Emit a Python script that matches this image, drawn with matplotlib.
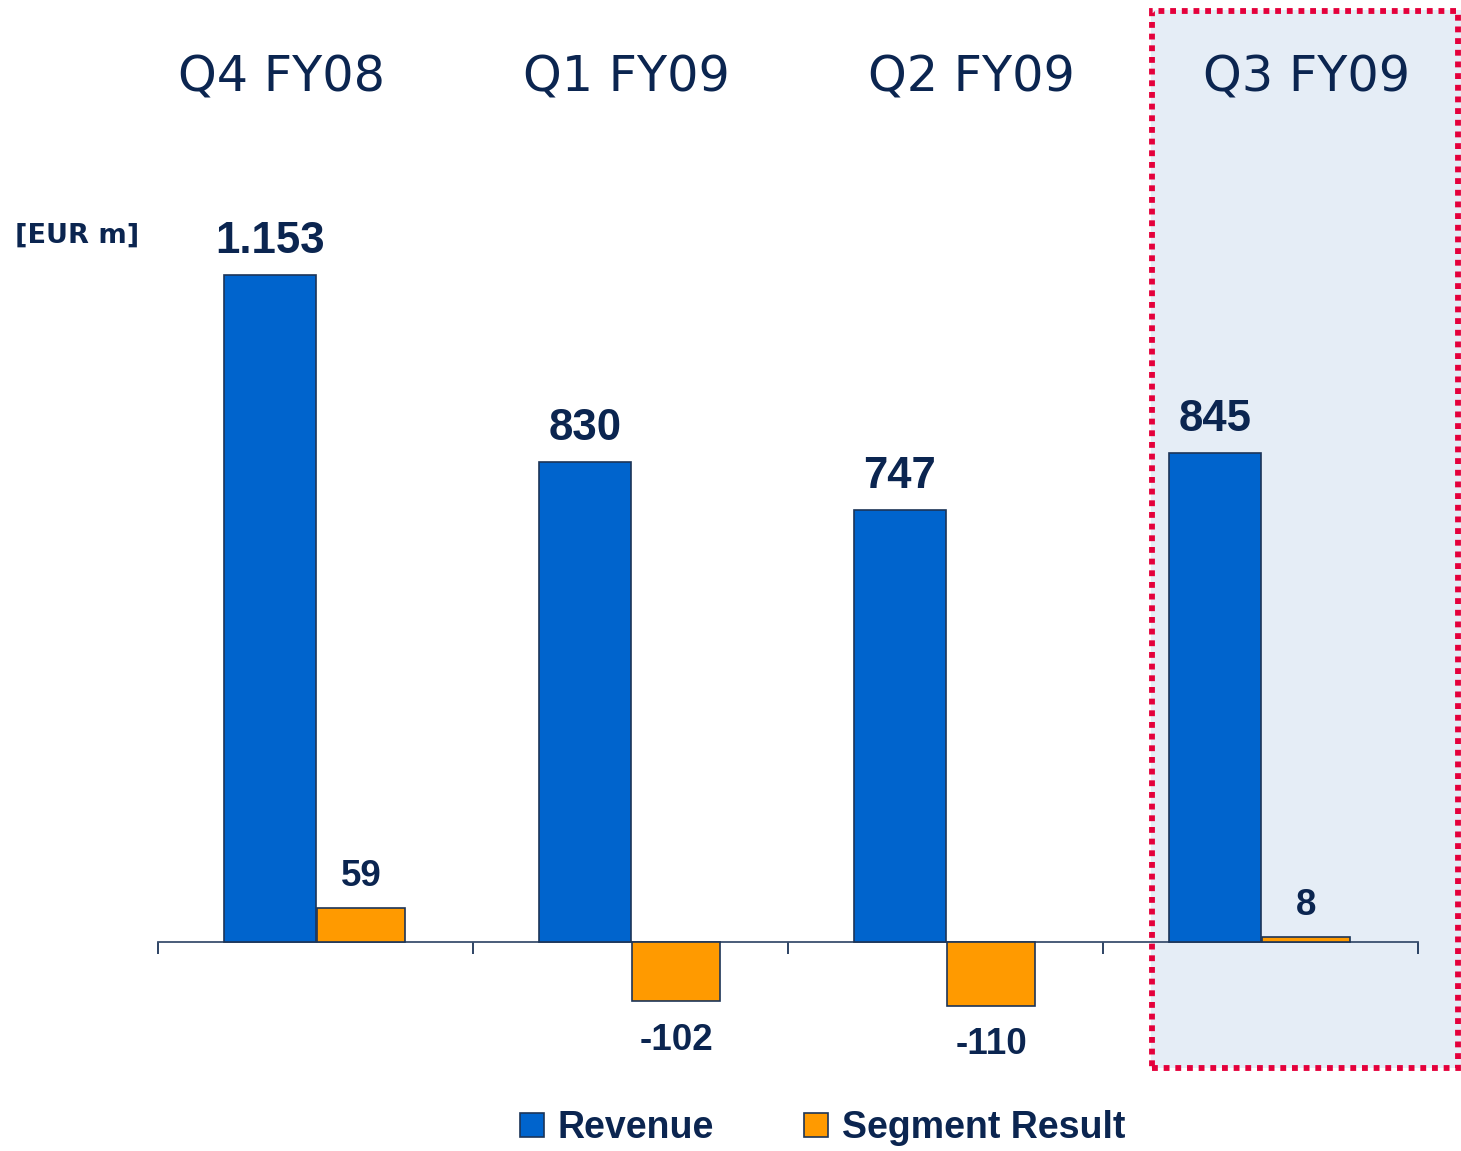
import matplotlib
matplotlib.use("Agg")
import matplotlib.pyplot as plt
import numpy as np
from matplotlib.lines import Line2D
from matplotlib.patches import Rectangle

# ── data ────────────────────────────────────────────────────────────
quarters = ["Q4 FY08", "Q1 FY09", "Q2 FY09", "Q3 FY09"]
revenue = [1153, 830, 747, 845]
segment = [59, -102, -110, 8]
revenue_labels = ["1.153", "830", "747", "845"]
segment_labels = ["59", "-102", "-110", "8"]

NAVY = "#0B2550"
BLUE = "#0064CD"
ORANGE = "#FF9A00"
EDGE = "#1C3558"

W, H = 1461, 1151
fig = plt.figure(figsize=(W / 100, H / 100), dpi=100)
fig.patch.set_facecolor("white")

# highlight panel for the latest quarter (figure pixels -> fractions)
fig.patches.append(Rectangle((1151 / W, 1 - 1068 / H), (1461 - 1151) / W, (1068 - 10) / H,
                             transform=fig.transFigure, facecolor="#E5EDF6",
                             edgecolor="none", zorder=-2))

ax = fig.add_axes([158 / W, 0, (1418 - 158) / W, 1])
ax.set_facecolor("none")
x = np.arange(len(quarters))
bw = 0.29
ax.bar(x - bw / 2, revenue, bw, color=BLUE, edgecolor=EDGE, lw=1.2, zorder=3)
ax.bar(x + bw / 2, segment, bw * 0.97, color=ORANGE, edgecolor=EDGE, lw=1.2, zorder=3)

ax.set_xlim(-0.5, len(quarters) - 0.5)
ax.set_ylim(-361.3, 1628.3)
for s in ["top", "left", "right"]:
    ax.spines[s].set_visible(False)
ax.spines["bottom"].set_position(("data", 0))
ax.spines["bottom"].set_color("#3A4F6E")
ax.spines["bottom"].set_linewidth(1.3)
ax.set_xticks(np.arange(-0.5, len(quarters), 1.0))
ax.set_xticklabels([])
ax.tick_params(axis="x", direction="out", length=8.5, width=1.3, color="#1C3558")
ax.set_yticks([])

for i in range(len(quarters)):
    ax.annotate(revenue_labels[i], (x[i] - bw / 2, revenue[i]), xytext=(0, 9.5),
                textcoords="offset points", ha="center", va="bottom",
                fontsize=31.5, fontweight="bold", family="Liberation Sans", color=NAVY)
    if segment[i] >= 0:
        ax.annotate(segment_labels[i], (x[i] + bw / 2, segment[i]), xytext=(0, 10),
                    textcoords="offset points", ha="center", va="bottom",
                    fontsize=26.5, fontweight="bold", family="Liberation Sans", color=NAVY)
    else:
        ax.annotate(segment_labels[i], (x[i] + bw / 2, segment[i]), xytext=(0, -15.5),
                    textcoords="offset points", ha="center", va="top",
                    fontsize=26.5, fontweight="bold", family="Liberation Sans", color=NAVY)

# quarter headings
title_px = [281, 626, 971, 1307]
for q, px in zip(quarters, title_px):
    fig.text(px / W, 1 - 91 / H, q, ha="center", va="baseline", fontsize=35.5,
             family="DejaVu Sans", color=NAVY)

fig.text(15 / W, 1 - 236 / H, "[EUR m]", ha="left", va="center", fontsize=19.5,
         fontweight="bold", family="DejaVu Sans", color=NAVY)

# dotted frame round the highlight
fig.patches.append(Rectangle((1152 / W, 1 - 1068 / H), (1458 - 1152) / W, (1068 - 11) / H,
                             transform=fig.transFigure, facecolor="none",
                             edgecolor="#E4003B", lw=4.2, linestyle=(0, (1, 1)),
                             zorder=10))

handles = [Line2D([], [], marker="s", ls="none", markersize=17, markerfacecolor=BLUE,
                  markeredgecolor=EDGE, markeredgewidth=1.2),
           Line2D([], [], marker="s", ls="none", markersize=17, markerfacecolor=ORANGE,
                  markeredgecolor=EDGE, markeredgewidth=1.2)]
leg = fig.legend(handles, ["Revenue", "Segment Result"], loc="center",
                 bbox_to_anchor=(821 / W, 1 - 1128 / H), ncol=2, frameon=False,
                 handlelength=0.8, handletextpad=0.3, columnspacing=2.3,
                 prop={"family": "Liberation Sans", "weight": "bold", "size": 27})
for t in leg.get_texts():
    t.set_color(NAVY)

fig.savefig("out.png", dpi=100)
